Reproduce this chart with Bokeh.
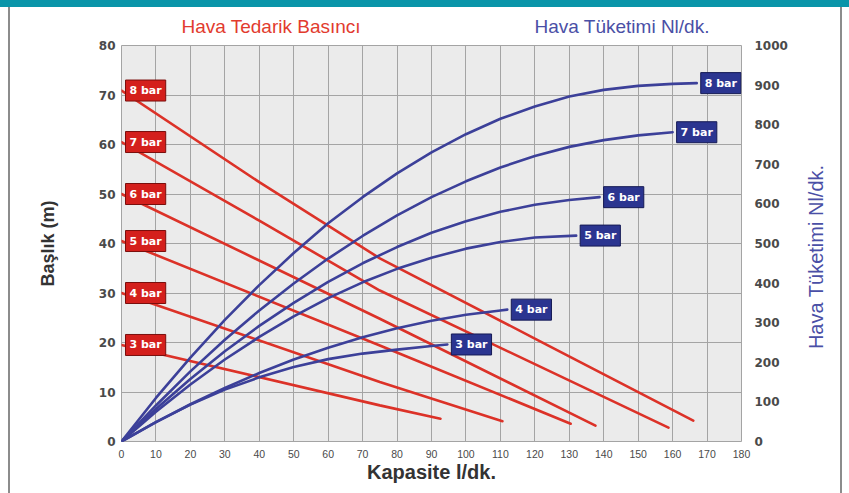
from bokeh.plotting import figure
from bokeh.models import Range1d, LinearAxis, FixedTicker, Label, Div
from bokeh.layouts import column, row
from bokeh.embed import file_html
from bokeh.resources import INLINE

# ---------------- data ----------------
x_ticks = list(range(0, 181, 10))
head_ticks = list(range(0, 81, 10))
air_ticks = list(range(0, 1001, 100))

pressure_labels = ["3 bar", "4 bar", "5 bar", "6 bar", "7 bar", "8 bar"]

# Head (m) vs capacity (l/dk.) - red lines
head_cap_3 = [0, 75, 92.6]
head_3 = [19.5, 7.3, 4.6]
head_cap_4 = [0, 75, 110.6]
head_4 = [30, 12, 4.1]
head_cap_5 = [0, 75, 130.4]
head_5 = [40.5, 19.4, 3.6]
head_cap_6 = [0, 75, 137.6]
head_6 = [50, 24.8, 3.2]
head_cap_7 = [0, 40, 75, 158.8]
head_7 = [60.5, 44.6, 30.5, 2.8]
head_cap_8 = [0, 40, 75, 120, 166]
head_8 = [70.9, 52.4, 37, 20.8, 4.2]

# Air consumption (Nl/dk.) vs capacity (l/dk.) - blue curves
air_cap_3 = [0, 10, 20, 30, 40, 50, 60, 70, 80, 90, 94.6]
air_3 = [0, 49, 93, 131, 162, 188, 208, 222, 232, 241, 245]
air_cap_4 = [0, 10, 20, 30, 40, 50, 60, 70, 80, 90, 100, 110, 112]
air_4 = [0, 49, 94, 135, 173, 207, 237, 263, 286, 305, 320, 331, 333]
air_cap_5 = [0, 10, 20, 30, 40, 50, 60, 70, 80, 90, 100, 110, 120, 132]
air_5 = [0, 75, 144, 207, 264, 316, 362, 402, 436, 464, 487, 504, 515, 520]
air_cap_6 = [0, 10, 20, 30, 40, 50, 60, 70, 80, 90, 100, 110, 120, 130, 138.8]
air_6 = [0, 82, 158, 228, 292, 350, 403, 450, 491, 527, 556, 580, 598, 610, 617]
air_cap_7 = [0, 10, 20, 30, 40, 50, 60, 70, 80, 90, 100, 110, 120, 130, 140, 150, 160]
air_7 = [0, 91, 177, 257, 331, 399, 462, 519, 571, 617, 657, 692, 721, 744, 761, 773, 781]
air_cap_8 = [0, 10, 20, 30, 40, 50, 60, 70, 80, 90, 100, 110, 120, 130, 140, 150, 160, 167]
air_8 = [0, 110, 212, 307, 395, 476, 551, 617, 677, 730, 776, 815, 846, 871, 888, 898, 903, 905]

head_series = [(head_cap_3, head_3), (head_cap_4, head_4), (head_cap_5, head_5),
               (head_cap_6, head_6), (head_cap_7, head_7), (head_cap_8, head_8)]
air_series = [(air_cap_3, air_3), (air_cap_4, air_4), (air_cap_5, air_5),
              (air_cap_6, air_6), (air_cap_7, air_7), (air_cap_8, air_8)]

title_left = "Hava Tedarik Basıncı"
title_right = "Hava Tüketimi Nl/dk."

# ---------------- style ----------------
RED = "#dc3228"
BLUE = "#3c4099"
RED_TAG = "#d41f1c"
RED_TAG_BORDER = "#7a0e0c"
BLUE_TAG = "#2b3590"
BLUE_TAG_BORDER = "#151a55"
TICK_COLOR = "#4a4a4a"
TITLE_RED = "#e23b2e"
TITLE_BLUE = "#4a4fa6"

W = 849
HEADER_H = 30
FIG_H = 493 - HEADER_H
FIG_W = 796
SIDE_W = W - FIG_W

header = Div(width=W, height=HEADER_H, margin=0, text=f"""
<div style="position:relative;width:{W}px;height:{HEADER_H}px;">
  <span style="position:absolute;left:271px;top:17px;transform:translateX(-50%);
        font-family:'Liberation Sans';font-size:19px;line-height:19px;
        color:{TITLE_RED};white-space:nowrap;">{title_left}</span>
  <span style="position:absolute;left:622px;top:17px;transform:translateX(-50%);
        font-family:'Liberation Sans';font-size:19px;line-height:19px;
        color:{TITLE_BLUE};white-space:nowrap;">{title_right}</span>
</div>""")

side = Div(width=SIDE_W, height=FIG_H, margin=0, text=f"""
<div style="position:relative;width:{SIDE_W}px;height:{FIG_H}px;">
  <span style="position:absolute;left:20px;top:227px;
        transform:translate(-50%,-50%) rotate(-90deg);
        font-family:'Liberation Sans';font-size:20px;line-height:20px;
        color:{TITLE_BLUE};white-space:nowrap;">{title_right}</span>
</div>""")

p = figure(width=FIG_W, height=FIG_H, x_range=Range1d(0, 180), y_range=Range1d(0, 80),
           output_backend="svg", toolbar_location=None, margin=0,
           min_border_left=121, min_border_right=FIG_W - 741, min_border_top=15,
           min_border_bottom=52,
           background_fill_color="#ebebeb", border_fill_alpha=0,
           outline_line_color="#a4a4a4")
p.extra_y_ranges = {"air": Range1d(0, 1000)}

p.xaxis.ticker = FixedTicker(ticks=x_ticks)
p.yaxis.ticker = FixedTicker(ticks=head_ticks)
right_axis = LinearAxis(y_range_name="air", ticker=FixedTicker(ticks=air_ticks))
p.add_layout(right_axis, "right")

p.xgrid.ticker = FixedTicker(ticks=x_ticks)
p.ygrid.ticker = FixedTicker(ticks=head_ticks)
p.grid.grid_line_color = "#a4a4a4"
p.grid.grid_line_width = 1

for ax in p.axis:
    ax.axis_line_color = None
    ax.major_tick_line_color = None
    ax.minor_tick_line_color = None
    ax.major_tick_out = 0
    ax.major_tick_in = 0
    ax.major_label_text_color = TICK_COLOR

for ax in (p.yaxis[0], right_axis):
    ax.major_label_text_font = "DejaVu Sans"
    ax.major_label_text_font_style = "bold"
    ax.major_label_text_font_size = "12px"
p.yaxis[0].major_label_standoff = 6
right_axis.major_label_standoff = 13

p.xaxis.major_label_text_font = "Liberation Sans"
p.xaxis.major_label_text_font_size = "10.5px"
p.xaxis.major_label_standoff = 8

p.yaxis[0].axis_label = "Başlık (m)"
p.yaxis[0].axis_label_text_font = "Liberation Sans"
p.yaxis[0].axis_label_text_font_style = "bold"
p.yaxis[0].axis_label_text_font_size = "18px"
p.yaxis[0].axis_label_text_color = "#333333"
p.yaxis[0].axis_label_standoff = 38

p.xaxis.axis_label = "Kapasite l/dk."
p.xaxis.axis_label_text_font = "Liberation Sans"
p.xaxis.axis_label_text_font_style = "bold"
p.xaxis.axis_label_text_font_size = "20px"
p.xaxis.axis_label_text_color = "#333333"
p.xaxis.axis_label_standoff = 0

# lines
for (xs, ys) in head_series:
    p.line(xs, ys, line_color=RED, line_width=2.6, line_cap="round")
for (xs, ys) in air_series:
    p.line(xs, ys, line_color=BLUE, line_width=2.6, line_cap="round", y_range_name="air")

PAD = 4


def tag(x, y, text, fill, border, rng):
    extra = {} if rng is None else {"y_range_name": rng}
    shadow = Label(x=x, y=y, text=text, text_align="left", text_baseline="middle",
                   x_offset=PAD + 2, y_offset=-2, text_font="DejaVu Sans",
                   text_font_style="bold", text_font_size="11px", text_alpha=0,
                   background_fill_color="#222222", background_fill_alpha=0.45,
                   padding=PAD, **extra)
    lab = Label(x=x, y=y, text=text, text_align="left", text_baseline="middle",
                x_offset=PAD, text_font="DejaVu Sans", text_font_style="bold",
                text_font_size="11px", text_color="white",
                background_fill_color=fill, border_line_color=border,
                border_line_width=1, padding=PAD, **extra)
    p.add_layout(shadow)
    p.add_layout(lab)


for name, (xs, ys) in zip(pressure_labels, head_series):
    tag(xs[0], ys[0], name, RED_TAG, RED_TAG_BORDER, None)
for name, (xs, ys) in zip(pressure_labels, air_series):
    tag(xs[-1], ys[-1], name, BLUE_TAG, BLUE_TAG_BORDER, "air")

body = row(p, side, spacing=0, margin=0, width=W, height=FIG_H)
page = column(header, body, spacing=0, margin=0, width=W, height=493)
page.styles = {
    "background": (
        "linear-gradient(to bottom, #0a95a9 0px, #0a95a9 7px, transparent 7px), "
        "linear-gradient(to right, transparent 8px, #8c8c8c 8px, #8c8c8c 10px, "
        "transparent 10px, transparent 840px, #8c8c8c 840px, #8c8c8c 842px, transparent 842px)"
    )
}

open("out.html", "w").write(file_html(page, INLINE))
